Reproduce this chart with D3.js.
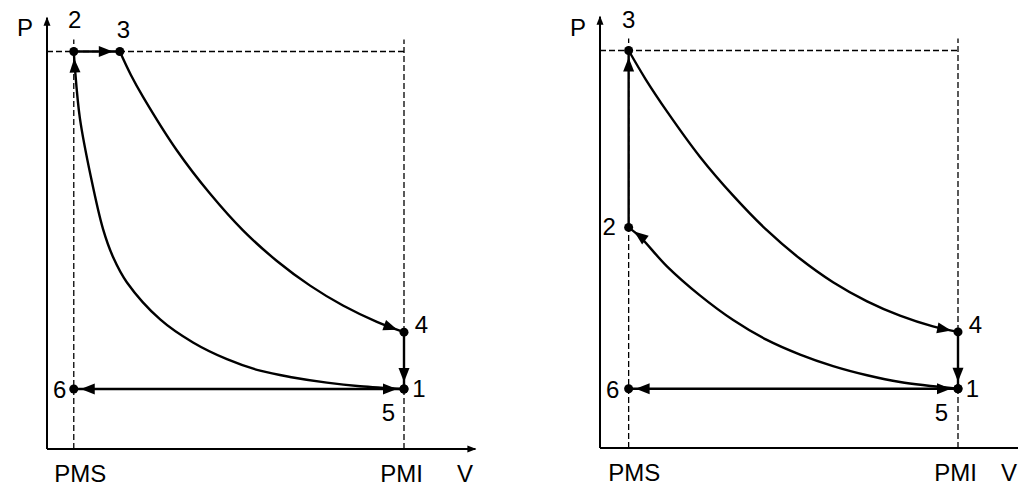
<!DOCTYPE html>
<html><head><meta charset="utf-8">
<script src="https://cdn.jsdelivr.net/npm/d3@7"></script>
<style>
html,body{margin:0;padding:0;background:#fff;}
svg{display:block;font-family:"Liberation Sans",Arial,sans-serif;}
</style></head><body>
<svg id="chart" width="1018" height="487"></svg>
<script>
// State numbers, in cycle order 1..6
const stateNames = ["1", "2", "3", "4", "5", "6"];
const xTickLabels = ["PMS", "PMI"];
const axisNames = ["P", "V"];

// Constant-pressure combustion cycle (left): V and P of states 1..6
const dieselV = [100, 7.5, 20.4, 100, 100, 7.5];
const dieselP = [15.1, 100, 100, 29.4, 15.1, 15.1];
// compression 1 -> 2
const dieselCompV = [100, 87.7, 78.4, 68.9, 59.7, 50.4, 40.9, 31.7, 22.4, 18.5, 15.7, 12.3, 9.2, 7.8, 7.5];
const dieselCompP = [15.1, 15.8, 16.7, 18.0, 19.7, 22.6, 26.8, 32.6, 41.9, 48.3, 55.3, 68.4, 83.3, 96.1, 100];
// expansion 3 -> 4
const dieselExpV = [20.4, 23.5, 26.9, 36.4, 45.7, 54.9, 64.4, 73.7, 82.9, 92.4, 100];
const dieselExpP = [100, 94.1, 88.6, 75.1, 64.2, 55.0, 47.3, 41.1, 36.1, 32.0, 29.4];

// Constant-volume combustion cycle (right)
const ottoV = [100, 8, 8, 100, 100, 8];
const ottoP = [14.9, 55.5, 100, 29.2, 14.9, 14.9];
const ottoCompV = [100, 83.8, 74.6, 65.1, 55.9, 46.6, 37.2, 27.9, 18.7, 11.2, 8];
const ottoCompP = [14.9, 16.6, 18.3, 20.6, 23.5, 27.2, 32.2, 38.4, 45.7, 53.1, 55.5];
const ottoExpV = [8, 12.8, 18.7, 27.9, 37.2, 46.6, 55.9, 65.1, 74.6, 83.8, 93.0, 100];
const ottoExpP = [100, 92.7, 84.7, 73.3, 63.5, 54.8, 47.6, 41.7, 36.9, 33.3, 30.6, 29.2];

const vMax = 120, pMax = 108.5, pGuide = 103;

const svg = d3.select("#chart");
const defs = svg.append("defs");

// arrowhead on the process lines, tip stops just short of the state dot
defs.append("marker")
  .attr("id", "head").attr("viewBox", "0 -5.5 14 11")
  .attr("markerUnits", "userSpaceOnUse")
  .attr("markerWidth", 14).attr("markerHeight", 11)
  .attr("refX", 21).attr("refY", 0)
  .attr("orient", "auto-start-reverse")
  .style("overflow", "visible")
  .append("path").attr("d", "M0,-5.5L14,0L0,5.5Z").attr("fill", "#000");

// small arrowhead at the axis ends
defs.append("marker")
  .attr("id", "axisHead").attr("viewBox", "0 -3.5 9 7")
  .attr("markerUnits", "userSpaceOnUse")
  .attr("markerWidth", 9).attr("markerHeight", 7)
  .attr("refX", 8).attr("refY", 0)
  .attr("orient", "auto")
  .style("overflow", "visible")
  .append("path").attr("d", "M0,-3.5L9,0L0,3.5Z").attr("fill", "#000");

const panels = [
  {
    left: 47, bottom: 449, unitW: 3.57, unitH: 3.975,
    V: dieselV, P: dieselP,
    comp: [dieselCompV, dieselCompP], exp: [dieselExpV, dieselExpP],
    labelOff: [[15, 8], [1, -24], [3.5, -14], [17.5, 1], [-15.5, 32], [-14, 9.5]],
    tickDx: [6, -3], vX: 465
  },
  {
    left: 600, bottom: 448, unitW: 3.58, unitH: 3.975,
    V: ottoV, P: ottoP,
    comp: [ottoCompV, ottoCompP], exp: [ottoExpV, ottoExpP],
    labelOff: [[14.5, 8], [-19.5, 7.5], [0, -23], [17.5, 1.5], [-16.5, 32], [-16, 9.5]],
    tickDx: [5, -3], vX: 1009
  }
];

panels.forEach(cfg => {
  const x = d3.scaleLinear().domain([0, vMax]).range([cfg.left, cfg.left + cfg.unitW * vMax]);
  const y = d3.scaleLinear().domain([0, pMax]).range([cfg.bottom, cfg.bottom - cfg.unitH * pMax]);
  const g = svg.append("g");
  const V = cfg.V, P = cfg.P;
  const pms = V[1], pmi = V[0];

  // dashed guides: top pressure line and the two dead-centre verticals
  const guides = [
    [[0, 100], [pmi, 100]],
    [[pms, 0], [pms, pGuide]],
    [[pmi, 0], [pmi, pGuide]]
  ];
  g.selectAll(".guide").data(guides).join("line")
    .attr("x1", d => x(d[0][0])).attr("y1", d => y(d[0][1]))
    .attr("x2", d => x(d[1][0])).attr("y2", d => y(d[1][1]))
    .attr("stroke", "#000").attr("stroke-width", 1.3)
    .attr("stroke-dasharray", "6,3");

  // axes
  g.append("line")
    .attr("x1", x(0)).attr("y1", y(0)).attr("x2", x(0)).attr("y2", y(pMax))
    .attr("stroke", "#000").attr("stroke-width", 2).attr("marker-end", "url(#axisHead)");
  g.append("line")
    .attr("x1", x(0)).attr("y1", y(0)).attr("x2", x(vMax)).attr("y2", y(0))
    .attr("stroke", "#000").attr("stroke-width", 2).attr("marker-end", "url(#axisHead)");

  const ax = g.append("g").attr("transform", `translate(0,${y(0)})`)
    .call(d3.axisBottom(x).tickValues([pms, pmi])
      .tickFormat((d, i) => xTickLabels[i]).tickSize(0).tickPadding(16));
  ax.select(".domain").remove();
  ax.selectAll("text")
    .attr("font-size", 24).attr("font-family", "Liberation Sans, Arial, sans-serif")
    .attr("fill", "#000")
    .attr("dx", (d, i) => cfg.tickDx[i]);

  g.append("text").text(axisNames[0])
    .attr("x", x(0) - 22).attr("y", 36)
    .attr("text-anchor", "middle").attr("font-size", 24);
  g.append("text").text(axisNames[1])
    .attr("x", cfg.vX).attr("y", y(0) + 33)
    .attr("text-anchor", "middle").attr("font-size", 24);

  const line = d3.line().x(d => x(d[0])).y(d => y(d[1]));
  const curve = d3.line().x(d => x(d[0])).y(d => y(d[1])).curve(d3.curveCatmullRom.alpha(0.5));
  const pts = (vs, ps) => vs.map((v, i) => [v, ps[i]]);
  const st = i => [V[i], P[i]];

  const strokes = g.append("g").attr("fill", "none").attr("stroke", "#000").attr("stroke-width", 2.4);

  // 1 -> 2 compression
  strokes.append("path").attr("d", curve(pts(cfg.comp[0], cfg.comp[1]))).attr("marker-end", "url(#head)");
  // 2 -> 3 combustion
  strokes.append("path").attr("d", line([st(1), st(2)])).attr("marker-end", "url(#head)");
  // 3 -> 4 expansion
  strokes.append("path").attr("d", curve(pts(cfg.exp[0], cfg.exp[1]))).attr("marker-end", "url(#head)");
  // 4 -> 5 exhaust blow-down
  strokes.append("path").attr("d", line([st(3), st(4)])).attr("marker-end", "url(#head)");
  // 5 -> 6 exhaust stroke, 6 -> 1 intake stroke
  strokes.append("path").attr("d", line([st(5), st(4)]))
    .attr("marker-start", "url(#head)").attr("marker-end", "url(#head)");

  // state dots
  g.selectAll(".dot").data(stateNames).join("circle")
    .attr("cx", (d, i) => x(V[i])).attr("cy", (d, i) => y(P[i]))
    .attr("r", 4.5).attr("fill", "#000");

  // state numbers
  g.selectAll(".num").data(stateNames).join("text")
    .text(d => d)
    .attr("x", (d, i) => x(V[i]) + cfg.labelOff[i][0])
    .attr("y", (d, i) => y(P[i]) + cfg.labelOff[i][1])
    .attr("text-anchor", "middle").attr("font-size", 24).attr("fill", "#000");
});
</script>
</body></html>
